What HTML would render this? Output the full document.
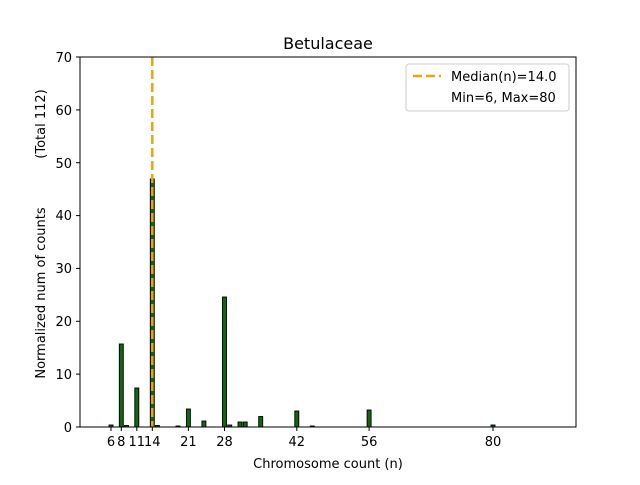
<!DOCTYPE html><html><head><style>body{margin:0;background:#fff}</style></head><body>
<svg width="640" height="480" xmlns="http://www.w3.org/2000/svg" font-family="DejaVu Sans, Liberation Sans, sans-serif">
<rect width="640" height="480" fill="#fff"/>
<g fill="#116611" stroke="#000" stroke-width="0.9">
<rect x="109" y="425" width="4" height="2"/>
<rect x="119.3" y="344" width="4" height="83"/>
<rect x="124.5" y="425.5" width="4" height="1.5"/>
<rect x="134.8" y="388" width="4" height="39"/>
<rect x="150.3" y="179" width="4" height="248"/>
<rect x="155.4" y="425.5" width="4" height="1.5"/>
<rect x="176" y="426" width="4" height="1"/>
<rect x="186.4" y="409" width="4" height="18"/>
<rect x="201.9" y="421" width="4" height="6"/>
<rect x="222.5" y="297" width="4" height="130"/>
<rect x="227.7" y="425" width="4" height="2"/>
<rect x="238" y="422" width="4" height="5"/>
<rect x="243.2" y="422" width="4" height="5"/>
<rect x="258.7" y="416.5" width="4" height="10.5"/>
<rect x="294.8" y="411" width="4" height="16"/>
<rect x="310.3" y="426" width="4" height="1"/>
<rect x="367.1" y="410" width="4" height="17"/>
<rect x="491" y="425" width="4" height="2"/>
</g>
<line x1="152.3" y1="57" x2="152.3" y2="427" stroke="#f0a30a" stroke-width="2.5" stroke-dasharray="9,4"/>
<rect x="80" y="57" width="496" height="370" fill="none" stroke="#000" stroke-width="1"/>
<g stroke="#000" stroke-width="1">
<line x1="80" y1="427" x2="76" y2="427"/><line x1="80" y1="374.1" x2="76" y2="374.1"/><line x1="80" y1="321.3" x2="76" y2="321.3"/><line x1="80" y1="268.4" x2="76" y2="268.4"/><line x1="80" y1="215.6" x2="76" y2="215.6"/><line x1="80" y1="162.7" x2="76" y2="162.7"/><line x1="80" y1="109.9" x2="76" y2="109.9"/><line x1="80" y1="57" x2="76" y2="57"/>
<line x1="111" y1="427" x2="111" y2="431"/><line x1="121.3" y1="427" x2="121.3" y2="431"/><line x1="136.8" y1="427" x2="136.8" y2="431"/><line x1="152.3" y1="427" x2="152.3" y2="431"/><line x1="188.4" y1="427" x2="188.4" y2="431"/><line x1="224.5" y1="427" x2="224.5" y2="431"/><line x1="296.8" y1="427" x2="296.8" y2="431"/><line x1="369.1" y1="427" x2="369.1" y2="431"/><line x1="493" y1="427" x2="493" y2="431"/>
</g>
<g font-size="13" text-anchor="end">
<text x="72" y="432">0</text><text x="72" y="379">10</text><text x="72" y="326">20</text><text x="72" y="273">30</text><text x="72" y="220">40</text><text x="72" y="168">50</text><text x="72" y="115">60</text><text x="72" y="62">70</text>
</g>
<g font-size="13" text-anchor="middle">
<text x="111" y="446">6</text><text x="121.3" y="446">8</text><text x="136.8" y="446">11</text><text x="152.3" y="446">14</text><text x="188.4" y="446">21</text><text x="224.5" y="446">28</text><text x="296.8" y="446">42</text><text x="369.1" y="446">56</text><text x="493" y="446">80</text>
<text x="328" y="468">Chromosome count (n)</text>
<text x="328" y="49" font-size="16">Betulaceae</text>
</g>
<text transform="translate(45,293) rotate(-90)" font-size="13" text-anchor="middle">Normalized num of counts</text>
<text transform="translate(45,124) rotate(-90)" font-size="13" text-anchor="middle">(Total 112)</text>
<rect x="406" y="64" width="163" height="47" rx="3" fill="#fff" stroke="#ccc"/>
<line x1="413" y1="76" x2="441" y2="76" stroke="#f0a30a" stroke-width="2.5" stroke-dasharray="9,4"/>
<text x="451" y="81" font-size="13">Median(n)=14.0</text>
<text x="451" y="102" font-size="13">Min=6, Max=80</text>
</svg>
</body></html>
